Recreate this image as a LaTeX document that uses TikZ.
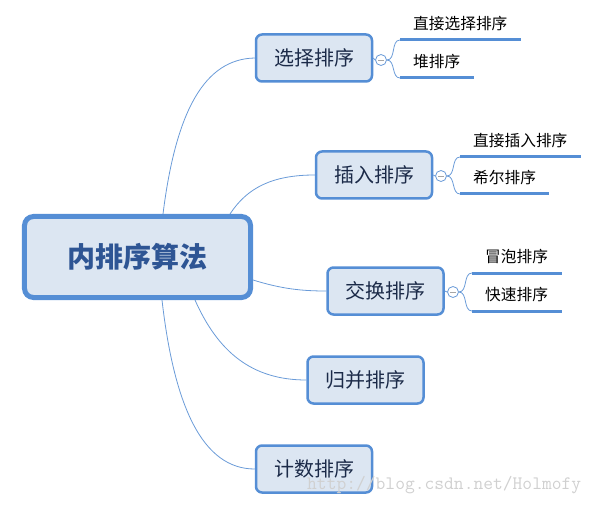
\documentclass[tikz,border=0pt]{standalone}
\usepackage{fontspec}
\newfontfamily\cjk{Noto Sans CJK SC}
\definecolor{boxfill}{HTML}{DCE6F2}
\definecolor{boxline}{HTML}{558ED5}
\definecolor{linkcol}{HTML}{6A9BD8}
\definecolor{roottext}{HTML}{2E5594}
\definecolor{nodetext}{HTML}{1B2A48}
\definecolor{wmgray}{HTML}{D0D0D0}
\tikzset{
  rootbox/.style={draw=boxline, fill=boxfill, line width=5bp, rounded corners=9bp,
    minimum width=226bp, minimum height=81bp, inner sep=0pt,
    font=\cjk\bfseries\fontsize{28bp}{30bp}\selectfont, text=roottext},
  topic/.style={draw=boxline, fill=boxfill, line width=2.5bp, rounded corners=6bp,
    minimum width=116bp, minimum height=47bp, inner sep=0pt,
    font=\cjk\fontsize{20bp}{22bp}\selectfont, text=nodetext},
  leaf/.style={anchor=south west, minimum height=33bp, inner xsep=13bp, inner ysep=0pt,
    text width=#1, align=left, font=\cjk\fontsize{15.7bp}{17bp}\selectfont, text=black},
  uline/.style={draw=boxline, line width=3bp},
  link/.style={draw=linkcol, line width=0.8bp},
  fold/.style={circle, draw=linkcol, fill=white, line width=0.8bp, minimum size=11bp, inner sep=0pt,
    path picture={\draw[gray!70, line width=0.8bp] ([xshift=-2.8bp]path picture bounding box.center) -- ([xshift=2.8bp]path picture bounding box.center);}},
}
\begin{document}
\begin{tikzpicture}[x=1bp, y=-1bp]
\useasboundingbox (0,0) rectangle (599,505);

% root
\node[rootbox] (root) at (137.5,257) {内排序算法};

% topics
\node[topic] (t1) at (314,58) {选择排序};
\node[topic] (t2) at (374,175) {插入排序};
\node[topic] (t3) at (385.5,291) {交换排序};
\node[topic] (t4) at (365.5,380) {归并排序};
\node[topic] (t5) at (314,469) {计数排序};

% root links
\coordinate (r1) at (163,214);
\coordinate (r2) at (230,214);
\coordinate (r3) at (253,280);
\coordinate (r4) at (195,300);
\coordinate (r5) at (162,300);
\draw[link] (r1) .. controls (176,110) and (205,59) .. (t1.west);
\draw[link] (r2) .. controls (247,188) and (272,175) .. (t2.west);
\draw[link] (r3) .. controls (282,289) and (302,291) .. (t3.west);
\draw[link] (r4) .. controls (218,352) and (252,380) .. (t4.west);
\draw[link] (r5) .. controls (174,405) and (202,469) .. (t5.west);

% fold markers
\node[fold] (f1) at (381,60) {};
\node[fold] (f2) at (441,176) {};
\node[fold] (f3) at (453,292) {};
\draw[link] (t1.east) -- (f1.west);
\draw[link] (t2.east) -- (f2.west);
\draw[link] (t3.east) -- (f3.west);

% leaves
\node[leaf=95bp] (a1) at (400,40) {直接选择排序};
\node[leaf=48bp] (a2) at (400,78) {堆排序};
\node[leaf=95bp] (b1) at (460,157) {直接插入排序};
\node[leaf=63bp] (b2) at (460,194) {希尔排序};
\node[leaf=64bp] (c1) at (472,273) {冒泡排序};
\node[leaf=64bp] (c2) at (472,311) {快速排序};

\foreach \n in {a1,a2,b1,b2,c1,c2}{
  \draw[uline] (\n.south west) -- (\n.south east);
}

\draw[link] (f1.east) to[out=0,in=180] (a1.south west);
\draw[link] (f1.east) to[out=0,in=180] (a2.south west);
\draw[link] (f2.east) to[out=0,in=180] (b1.south west);
\draw[link] (f2.east) to[out=0,in=180] (b2.south west);
\draw[link] (f3.east) to[out=0,in=180] (c1.south west);
\draw[link] (f3.east) to[out=0,in=180] (c2.south west);

% watermark
\node[anchor=west, inner sep=0pt, text=wmgray, font=\ttfamily\fontsize{19bp}{21bp}\selectfont] (wm) at (307,485) {http://blog.csdn.net/Holmofy};
\end{tikzpicture}
\end{document}
